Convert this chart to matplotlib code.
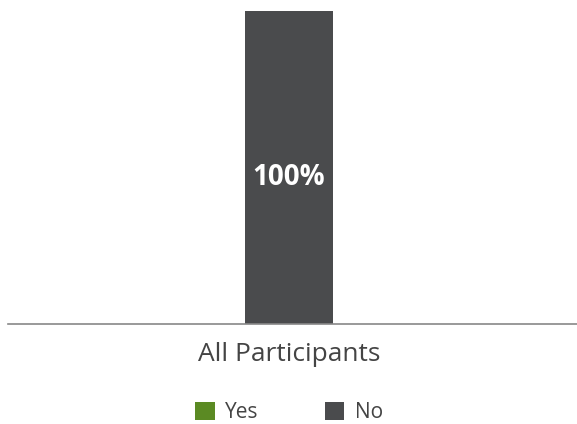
import numpy as np
import matplotlib.pyplot as plt

plt.rcParams['font.family'] = ['Open Sans', 'DejaVu Sans']

categories = ['All Participants']
yes_vals = [0]
no_vals = [100]
series_names = ['Yes', 'No']
colors = ['#5b8a23', '#4a4b4d']

fig = plt.figure(figsize=(5.77, 4.24), dpi=100)
ax = fig.add_axes([8/577, 1 - 324/424, 569/577, 313/424])

x = np.arange(len(categories))
ax.bar(x, yes_vals, width=0.155, color=colors[0], label=series_names[0])
ax.bar(x, no_vals, width=0.155, bottom=yes_vals, color=colors[1], label=series_names[1])

for i, v in enumerate(no_vals):
    if v > 0:
        ax.annotate(f'{v}%', (x[i], yes_vals[i] + v / 2), xytext=(0, -7),
                    textcoords='offset points', ha='center', va='center',
                    color='white', fontsize=20, fontweight='bold')

ax.set_xlim(-0.494, 0.506)
ax.set_ylim(0, 100)
ax.set_xticks(x)
ax.set_xticklabels(categories, fontsize=19, color='#444444')
ax.tick_params(axis='x', length=0, pad=13)
ax.set_yticks([])
for s in ['top', 'right', 'left']:
    ax.spines[s].set_visible(False)
ax.spines['bottom'].set_color('#888888')
ax.spines['bottom'].set_linewidth(1.2)

ax.legend(loc='center', bbox_to_anchor=(0.494, -0.283), ncol=2, frameon=False,
          fontsize=15, handlelength=0.95, handleheight=0.95, columnspacing=3.15,
          handletextpad=0.5, labelcolor='#444444')

fig.savefig('out.png', dpi=100)
